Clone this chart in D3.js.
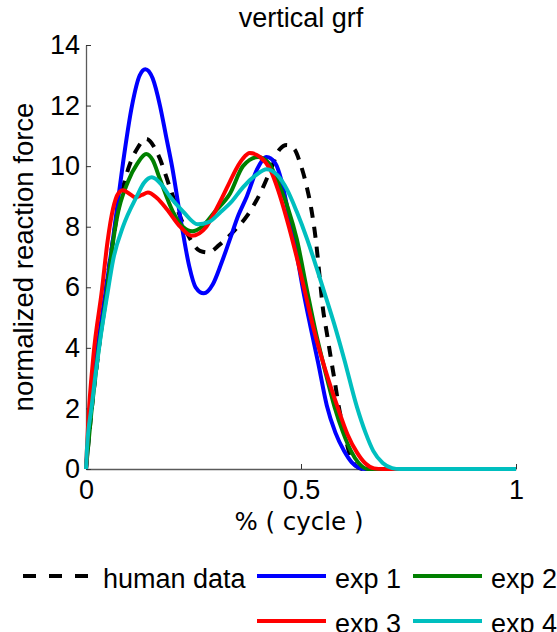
<!DOCTYPE html>
<html>
<head>
<meta charset="utf-8">
<script src="https://cdn.jsdelivr.net/npm/d3@7"></script>
<style>
    body { margin: 0; background: #fff; }
    text { font-family: 'Liberation Sans', Arial, sans-serif; }
</style>
</head>
<body>
<div id="vertical-grf"></div>
<script>
'use strict';

// [% cycle, normalized force]
var humanData = [[0,0],[0.012,1.8],[0.03,4],[0.05,6.3],[0.07,8.2],[0.098,9.9],[0.12,10.6],[0.14,10.9],
    [0.167,10.4],[0.195,9.3],[0.22,8.3],[0.242,7.6],[0.265,7.2],[0.284,7.15],[0.31,7.4],[0.34,7.8],
    [0.374,8.35],[0.405,9.1],[0.43,9.9],[0.45,10.55],[0.467,10.7],[0.485,10.55],[0.498,10.1],[0.512,9.4],
    [0.525,8.5],[0.535,7.5],[0.543,6.4],[0.551,5.3],[0.56,4.5],[0.569,3.7],[0.579,2.85],[0.588,2.05],
    [0.601,1.2],[0.614,0.45],[0.628,0.1],[0.645,0],[1,0]];

var exp1 = [[0,0],[0.01,1.8],[0.025,3.8],[0.045,5.8],[0.06,7.3],[0.072,8.6],[0.086,10.1],[0.107,12],
    [0.125,13.0],[0.138,13.2],[0.155,12.9],[0.172,12.0],[0.186,11.0],[0.2,10.0],[0.223,8.0],[0.24,6.7],
    [0.255,6.0],[0.274,5.8],[0.295,6.1],[0.315,6.8],[0.335,7.6],[0.355,8.4],[0.374,9.0],[0.398,9.9],
    [0.42,10.3],[0.44,10.1],[0.455,9.5],[0.47,8.5],[0.49,7.1],[0.505,5.9],[0.522,4.7],[0.54,3.5],
    [0.56,2.1],[0.58,1.2],[0.6,0.6],[0.618,0.22],[0.635,0.04],[0.65,0],[1,0]];

var exp2 = [[0,0],[0.012,1.8],[0.028,3.8],[0.048,5.8],[0.06,7.2],[0.072,8.3],[0.098,9.5],[0.12,10.1],
    [0.14,10.4],[0.155,10.2],[0.172,9.57],[0.202,8.5],[0.225,8.0],[0.247,7.85],[0.27,8.0],[0.3,8.5],
    [0.335,9.1],[0.365,10.0],[0.4,10.3],[0.425,10.1],[0.45,9.35],[0.47,8.6],[0.49,7.6],[0.514,5.9],
    [0.533,4.6],[0.555,3.3],[0.578,2.05],[0.598,1.2],[0.616,0.6],[0.634,0.2],[0.655,0],[1,0]];

var exp3 = [[0,0],[0.005,1.5],[0.017,3.7],[0.037,5.9],[0.05,7.5],[0.063,8.6],[0.075,9.1],[0.086,9.2],
    [0.1,9.1],[0.114,8.97],[0.13,9.05],[0.144,9.13],[0.165,8.95],[0.188,8.58],[0.219,8.0],[0.246,7.7],
    [0.28,8.0],[0.3,8.5],[0.318,9.0],[0.335,9.5],[0.351,9.95],[0.365,10.25],[0.381,10.43],[0.405,10.3],
    [0.428,9.9],[0.447,9.2],[0.467,8.25],[0.49,7.0],[0.51,5.8],[0.53,4.6],[0.556,3.3],[0.585,2.05],
    [0.608,1.15],[0.63,0.55],[0.65,0.18],[0.67,0.02],[0.69,0],[1,0]];

var exp4 = [[0,0],[0.002,0.6],[0.013,2.05],[0.033,4.27],[0.05,5.8],[0.063,6.9],[0.086,8.0],[0.118,9.0],
    [0.135,9.45],[0.153,9.63],[0.175,9.4],[0.195,9.0],[0.226,8.5],[0.26,8.08],[0.285,8.15],[0.312,8.47],
    [0.34,8.85],[0.365,9.3],[0.395,9.7],[0.42,9.9],[0.445,9.7],[0.467,9.24],[0.49,8.5],[0.514,7.6],
    [0.535,6.7],[0.555,5.8],[0.577,4.8],[0.6,3.65],[0.63,2.05],[0.65,1.2],[0.668,0.6],[0.69,0.2],
    [0.712,0.03],[0.73,0],[1,0]];

var seriesNames = ['human data', 'exp 1', 'exp 2', 'exp 3', 'exp 4'];
var xTicks = [0, 0.5, 1];
var yTicks = [0, 2, 4, 6, 8, 10, 12, 14];

var moduleVerticalGrf = (function() {

    var width = 557,
        height = 632;

    var left = 86, right = 516, top = 45, bottom = 469;

    var series = [
        {name: seriesNames[0], values: humanData, color: '#000000', dash: '11,9'},
        {name: seriesNames[1], values: exp1, color: '#0000ff', dash: null},
        {name: seriesNames[2], values: exp2, color: '#008000', dash: null},
        {name: seriesNames[3], values: exp3, color: '#ff0000', dash: null},
        {name: seriesNames[4], values: exp4, color: '#00bfbf', dash: null}
    ];

    var svg = d3.select('#vertical-grf').append('svg')
        .attr('width', width)
        .attr('height', height);

    var x = d3.scaleLinear().domain([0, 1]).range([left, right]);
    var y = d3.scaleLinear().domain([0, 14]).range([bottom, top]);

    var init = function() {
        var xAxis = svg.append('g')
            .attr('transform', 'translate(0,' + bottom + ')')
            .call(d3.axisBottom(x).tickValues(xTicks).tickFormat(d3.format('')).tickSizeInner(-5).tickSizeOuter(0).tickPadding(11));

        var yAxis = svg.append('g')
            .attr('transform', 'translate(' + left + ',0)')
            .call(d3.axisLeft(y).tickValues(yTicks).tickSizeInner(-5).tickSizeOuter(0).tickPadding(6));

        [xAxis, yAxis].forEach(function(a) {
            a.select('.domain').attr('stroke', '#5a5a5a').attr('stroke-width', 1.3);
            a.selectAll('.tick line').attr('stroke', '#333').attr('stroke-width', 1);
            a.selectAll('.tick text')
                .attr('fill', '#000')
                .style('font-family', "'Liberation Sans', Arial, sans-serif")
                .style('font-size', '27px');
        });

        var line = d3.line()
            .x(function(d) { return x(d[0]); })
            .y(function(d) { return y(d[1]); })
            .curve(d3.curveMonotoneX);

        svg.append('g').selectAll('path')
            .data(series)
            .enter()
            .append('path')
            .attr('d', function(d) { return line(d.values); })
            .attr('fill', 'none')
            .attr('stroke', function(d) { return d.color; })
            .attr('stroke-width', 4)
            .attr('stroke-linejoin', 'round')
            .attr('stroke-dasharray', function(d) { return d.dash; });

        svg.append('text')
            .attr('x', (left + right) / 2)
            .attr('y', 27)
            .attr('text-anchor', 'middle')
            .style('font-size', '27px')
            .text('vertical grf');

        svg.append('text')
            .attr('transform', 'translate(33,' + (top + bottom) / 2 + ') rotate(-90)')
            .attr('text-anchor', 'middle')
            .style('font-size', '27.5px')
            .text('normalized reaction force');

        svg.append('text')
            .attr('x', (left + right) / 2 - 2)
            .attr('y', 530)
            .attr('text-anchor', 'middle')
            .style('font-family', "'DejaVu Sans', sans-serif")
            .style('font-size', '24.5px')
            .text('% ( cycle )');

        // legend: first row human data, exp 1, exp 2; second row exp 3, exp 4 under exp 1/2
        var slots = [
            {lx: 23, row: 0}, {lx: 257, row: 0}, {lx: 413, row: 0},
            {lx: 257, row: 1}, {lx: 413, row: 1}
        ];
        var legend = svg.append('g').selectAll('g')
            .data(series)
            .enter()
            .append('g')
            .attr('transform', function(d, i) {
                return 'translate(' + slots[i].lx + ',' + (576 + slots[i].row * 45) + ')';
            });

        legend.append('line')
            .attr('x1', 0)
            .attr('x2', function(d, i) { return i === 0 ? 68 : 69; })
            .attr('stroke', function(d) { return d.color; })
            .attr('stroke-width', 4)
            .attr('stroke-dasharray', function(d) { return d.dash ? '13,13' : null; });

        legend.append('text')
            .attr('x', function(d, i) { return i === 0 ? 80 : 78; })
            .attr('y', 12)
            .style('font-size', '27px')
            .text(function(d) { return d.name; });
    };

    return {
        init: init
    };
})();

moduleVerticalGrf.init();
</script>
</body>
</html>
